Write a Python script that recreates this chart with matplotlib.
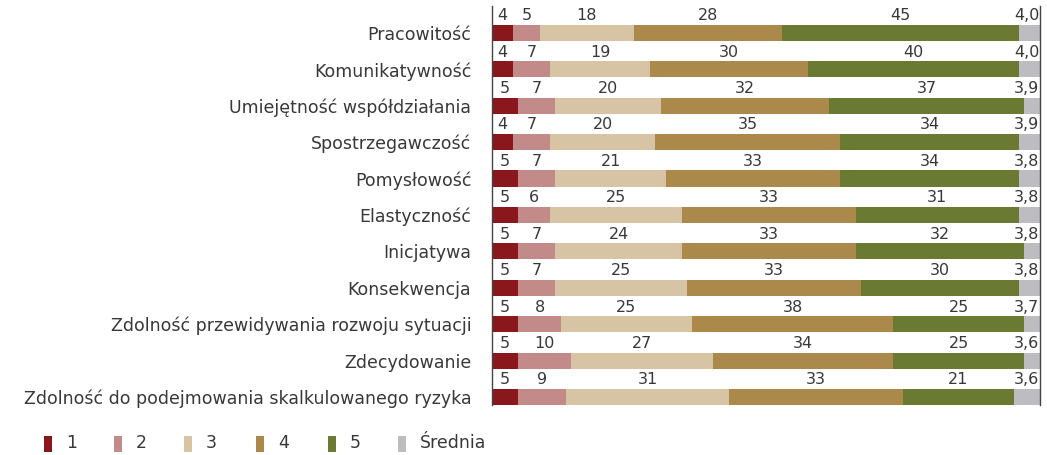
# Ocena kompetencji - skumulowane słupki poziome z oceną średnią

import matplotlib.pyplot as plt
from matplotlib.patches import Rectangle

plt.rcParams['font.family'] = ['DejaVu Sans']

categories = [
    'Pracowitość',
    'Komunikatywność',
    'Umiejętność współdziałania',
    'Spostrzegawczość',
    'Pomysłowość',
    'Elastyczność',
    'Inicjatywa',
    'Konsekwencja',
    'Zdolność przewidywania rozwoju sytuacji',
    'Zdecydowanie',
    'Zdolność do podejmowania skalkulowanego ryzyka',
]

score_1 = [4, 4, 5, 4, 5, 5, 5, 5, 5, 5, 5]
score_2 = [5, 7, 7, 7, 7, 6, 7, 7, 8, 10, 9]
score_3 = [18, 19, 20, 20, 21, 25, 24, 25, 25, 27, 31]
score_4 = [28, 30, 32, 35, 33, 33, 33, 33, 38, 34, 33]
score_5 = [45, 40, 37, 34, 34, 31, 32, 30, 25, 25, 21]
mean_score = [4.0, 4.0, 3.9, 3.9, 3.8, 3.8, 3.8, 3.8, 3.7, 3.6, 3.6]

series = [score_1, score_2, score_3, score_4, score_5]
series_labels = ['1', '2', '3', '4', '5']
colors = ['#8a171c', '#c38a8a', '#d6c4a4', '#ab894b', '#6a7a33']
mean_color = '#bdbdc1'
text_color = '#383838'

x_end = 104  # end of the scale; the grey "Średnia" segment fills up to it
bar_h = 0.44
fs_num = 11.5
fs_lab = 12.5

fig = plt.figure(figsize=(10.47, 4.55), dpi=100)
ax = fig.add_axes([0.470, 0.110, 0.5235, 0.877])

for i, cat in enumerate(categories):
    left = 0
    for vals, col in zip(series, colors):
        v = vals[i]
        ax.barh(i, v, left=left, height=bar_h, color=col, edgecolor='none')
        ax.text(left + v / 2, i - 0.47, str(v), ha='center', va='center',
                fontsize=fs_num, color=text_color)
        left += v
    ax.barh(i, x_end - left, left=left, height=bar_h, color=mean_color,
            edgecolor='none')
    ax.text(x_end - 0.2, i - 0.47, f'{mean_score[i]:.1f}'.replace('.', ','),
            ha='right', va='center', fontsize=fs_num, color=text_color)

ax.set_xlim(0, x_end)
ax.set_ylim(len(categories) - 1 + bar_h / 2, -0.74)
ax.set_yticks(range(len(categories)))
ax.set_yticklabels(categories, fontsize=fs_lab, color=text_color)
ax.tick_params(axis='y', length=0, pad=15)
ax.set_xticks([])
for side in ['top', 'bottom']:
    ax.spines[side].set_visible(False)
for side in ['left', 'right']:
    ax.spines[side].set_color('#444444')
    ax.spines[side].set_linewidth(1.0)

# legend along the bottom
legend_x = [44, 114, 184, 256, 328, 398]
for x, col, lab in zip(legend_x, colors + [mean_color], series_labels + ['Średnia']):
    fig.add_artist(Rectangle((x / 1047, 1 - 452 / 455), 8 / 1047, 16 / 455,
                             transform=fig.transFigure, color=col, lw=0))
    fig.text((x + 22) / 1047, 1 - 443 / 455, lab, ha='left', va='center',
             fontsize=fs_lab, color=text_color)

fig.savefig('out.png', dpi=100)
